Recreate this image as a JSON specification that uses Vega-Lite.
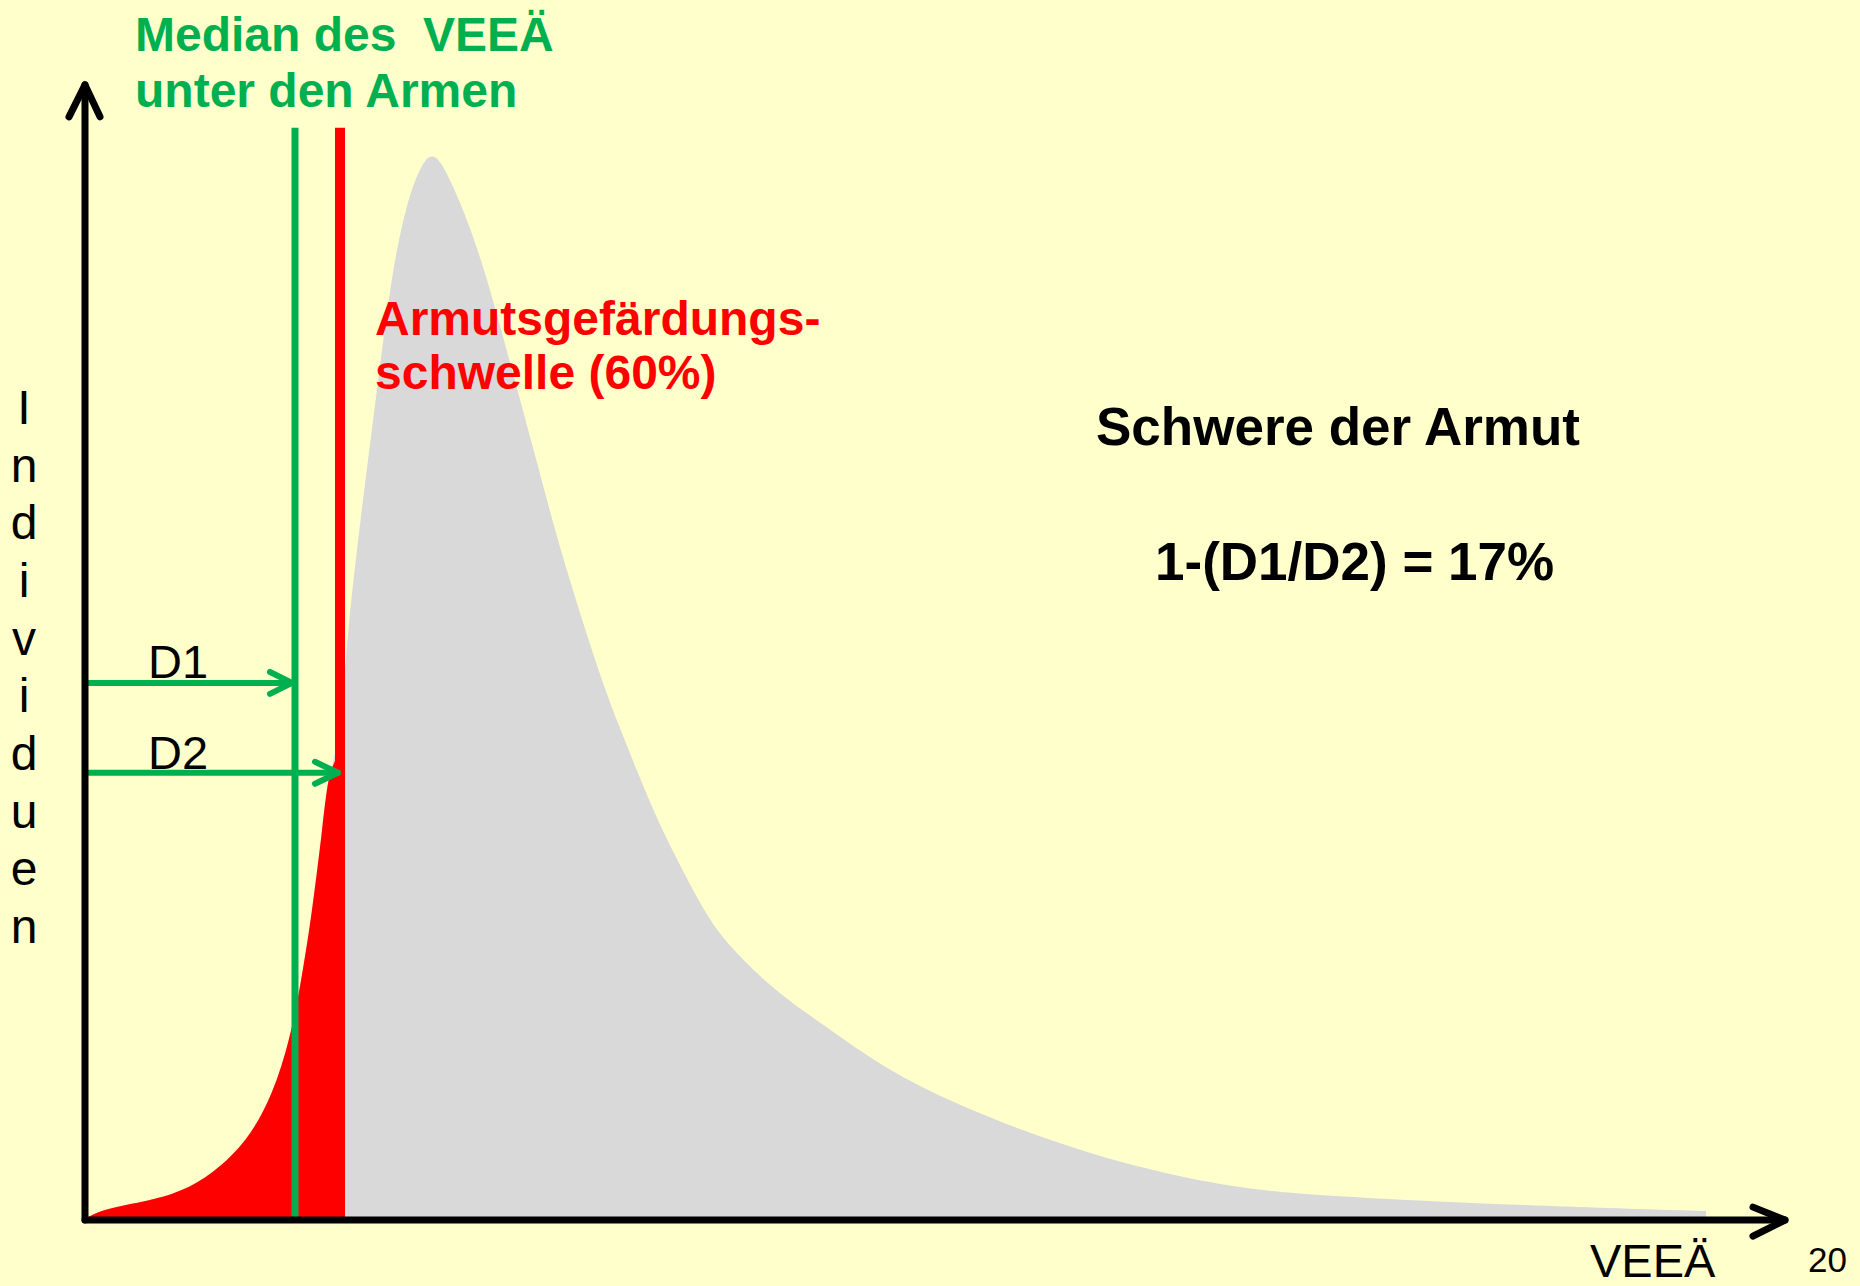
{
  "$schema": "https://vega.github.io/schema/vega-lite/v6.json",
  "width": 1860,
  "height": 1286,
  "padding": 0,
  "autosize": {"type": "fit", "contains": "padding"},
  "background": "#FFFFCC",
  "config": {"view": {"stroke": null}},
  "datasets": {
    "dist": [
      {"x": 0, "h": 0}, {"x": 13, "h": 10}, {"x": 68, "h": 20}, {"x": 97, "h": 29},
      {"x": 127, "h": 46}, {"x": 162, "h": 78}, {"x": 188, "h": 126}, {"x": 205, "h": 182},
      {"x": 215, "h": 232}, {"x": 227, "h": 307}, {"x": 238, "h": 398}, {"x": 243, "h": 444},
      {"x": 250, "h": 460}, {"x": 260, "h": 546}, {"x": 263, "h": 591}, {"x": 270, "h": 655},
      {"x": 278, "h": 722}, {"x": 287, "h": 792}, {"x": 295, "h": 856}, {"x": 303, "h": 918},
      {"x": 312, "h": 975}, {"x": 325, "h": 1030}, {"x": 338, "h": 1060}, {"x": 347, "h": 1068},
      {"x": 356, "h": 1060}, {"x": 368, "h": 1036}, {"x": 385, "h": 995}, {"x": 402, "h": 943},
      {"x": 418, "h": 885}, {"x": 435, "h": 822}, {"x": 452, "h": 759}, {"x": 468, "h": 698},
      {"x": 485, "h": 640}, {"x": 502, "h": 586}, {"x": 518, "h": 537}, {"x": 535, "h": 492},
      {"x": 552, "h": 450}, {"x": 568, "h": 411}, {"x": 585, "h": 375}, {"x": 602, "h": 342},
      {"x": 618, "h": 312}, {"x": 635, "h": 285}, {"x": 668, "h": 250}, {"x": 702, "h": 221},
      {"x": 735, "h": 198}, {"x": 785, "h": 162}, {"x": 836, "h": 132}, {"x": 936, "h": 89},
      {"x": 1051, "h": 52}, {"x": 1165, "h": 29}, {"x": 1280, "h": 22}, {"x": 1433, "h": 15},
      {"x": 1621, "h": 9}
    ],
    "poor": [
      {"x": 0, "h": 0}, {"x": 13, "h": 10}, {"x": 68, "h": 20}, {"x": 97, "h": 29},
      {"x": 127, "h": 46}, {"x": 162, "h": 78}, {"x": 188, "h": 126}, {"x": 205, "h": 182},
      {"x": 215, "h": 232}, {"x": 227, "h": 307}, {"x": 238, "h": 398}, {"x": 243, "h": 444},
      {"x": 250, "h": 460}, {"x": 255, "h": 470}
    ],
    "vlines": [
      {"name": "Median", "x": 210, "h0": 0, "h1": 1094},
      {"name": "Schwelle", "x": 255, "h0": 0, "h1": 1094}
    ],
    "arrows": [
      {"seg": "d1", "o": 0, "x": 0, "h": 538}, {"seg": "d1", "o": 1, "x": 207, "h": 538},
      {"seg": "d1h", "o": 0, "x": 185, "h": 549}, {"seg": "d1h", "o": 1, "x": 207, "h": 538}, {"seg": "d1h", "o": 2, "x": 185, "h": 527},
      {"seg": "d2", "o": 0, "x": 0, "h": 448}, {"seg": "d2", "o": 1, "x": 253, "h": 448},
      {"seg": "d2h", "o": 0, "x": 230, "h": 459}, {"seg": "d2h", "o": 1, "x": 253, "h": 448}, {"seg": "d2h", "o": 2, "x": 230, "h": 437}
    ],
    "axes": [
      {"seg": "ya", "o": 0, "x": 0, "h": 0}, {"seg": "ya", "o": 1, "x": 0, "h": 1137},
      {"seg": "yah", "o": 0, "x": -16, "h": 1105}, {"seg": "yah", "o": 1, "x": 0, "h": 1137}, {"seg": "yah", "o": 2, "x": 15, "h": 1105},
      {"seg": "xa", "o": 0, "x": 0, "h": 0}, {"seg": "xa", "o": 1, "x": 1700, "h": 0},
      {"seg": "xah", "o": 0, "x": 1668, "h": 13}, {"seg": "xah", "o": 1, "x": 1700, "h": 0}, {"seg": "xah", "o": 2, "x": 1668, "h": -16}
    ]
  },
  "encoding": {
    "x": {"field": "x", "type": "quantitative", "scale": {"domain": [-85, 1775], "nice": false, "zero": false}, "axis": null},
    "y": {"field": "h", "type": "quantitative", "scale": {"domain": [-64, 1222], "nice": false, "zero": false}, "axis": null}
  },
  "layer": [
    {
      "data": {"name": "dist"},
      "mark": {"type": "area", "color": "#D9D9D9", "interpolate": "basis"},
      "encoding": {"y2": {"datum": 0}}
    },
    {
      "data": {"name": "poor"},
      "mark": {"type": "area", "color": "#FF0000", "interpolate": "basis"},
      "encoding": {"y2": {"datum": 0}}
    },
    {
      "data": {"name": "vlines"},
      "mark": {"type": "rule"},
      "encoding": {
        "y": {"field": "h0", "type": "quantitative"},
        "y2": {"field": "h1"},
        "color": {"field": "name", "type": "nominal", "scale": {"domain": ["Median", "Schwelle"], "range": ["#00B050", "#FF0000"]}, "legend": null},
        "strokeWidth": {"field": "name", "type": "nominal", "scale": {"domain": ["Median", "Schwelle"], "range": [7, 10]}, "legend": null}
      }
    },
    {
      "data": {"name": "arrows"},
      "mark": {"type": "line", "color": "#00B050", "strokeWidth": 6, "strokeCap": "round", "strokeJoin": "round"},
      "encoding": {"detail": {"field": "seg"}, "order": {"field": "o", "type": "quantitative"}}
    },
    {
      "data": {"name": "axes"},
      "mark": {"type": "line", "color": "#000000", "strokeWidth": 7, "strokeCap": "round", "strokeJoin": "round"},
      "encoding": {"detail": {"field": "seg"}, "order": {"field": "o", "type": "quantitative"}}
    },
    {
      "data": {"values": [
        {"t": "Median des \u00a0VEEÄ", "x": 50, "h": 1171},
        {"t": "unter den Armen", "x": 50, "h": 1115}
      ]},
      "mark": {"type": "text", "font": "Liberation Sans", "fontWeight": "bold", "fontSize": 48, "color": "#00B050", "align": "left", "baseline": "alphabetic"},
      "encoding": {"text": {"field": "t"}}
    },
    {
      "data": {"values": [
        {"t": "Armutsgefärdungs-", "x": 290, "h": 886},
        {"t": "schwelle (60%)", "x": 290, "h": 832}
      ]},
      "mark": {"type": "text", "font": "Liberation Sans", "fontWeight": "bold", "fontSize": 48, "color": "#FF0000", "align": "left", "baseline": "alphabetic"},
      "encoding": {"text": {"field": "t"}}
    },
    {
      "data": {"values": [
        {"t": "Schwere der Armut", "x": 1011, "h": 776},
        {"t": "1-(D1/D2) = 17%", "x": 1070, "h": 641}
      ]},
      "mark": {"type": "text", "font": "Liberation Sans", "fontWeight": "bold", "fontSize": 53, "color": "#000000", "align": "left", "baseline": "alphabetic"},
      "encoding": {"text": {"field": "t"}}
    },
    {
      "data": {"values": [
        {"t": "D1", "x": 63, "h": 543},
        {"t": "D2", "x": 63, "h": 452},
        {"t": "VEEÄ", "x": 1505, "h": -57}
      ]},
      "mark": {"type": "text", "font": "Liberation Sans", "fontSize": 47, "color": "#000000", "align": "left", "baseline": "alphabetic"},
      "encoding": {"text": {"field": "t"}}
    },
    {
      "data": {"values": [
        {"t": "20", "x": 1723, "h": -52}
      ]},
      "mark": {"type": "text", "font": "Liberation Sans", "fontSize": 35, "color": "#000000", "align": "left", "baseline": "alphabetic"},
      "encoding": {"text": {"field": "t"}}
    },
    {
      "data": {"values": [
        {"t": "I", "x": -61, "h": 797}, {"t": "n", "x": -61, "h": 739},
        {"t": "d", "x": -61, "h": 682}, {"t": "i", "x": -61, "h": 624},
        {"t": "v", "x": -61, "h": 566}, {"t": "i", "x": -61, "h": 509},
        {"t": "d", "x": -61, "h": 451}, {"t": "u", "x": -61, "h": 393},
        {"t": "e", "x": -61, "h": 336}, {"t": "n", "x": -61, "h": 278}
      ]},
      "mark": {"type": "text", "font": "Liberation Sans", "fontSize": 48, "color": "#000000", "align": "center", "baseline": "alphabetic"},
      "encoding": {"text": {"field": "t"}}
    }
  ]
}
